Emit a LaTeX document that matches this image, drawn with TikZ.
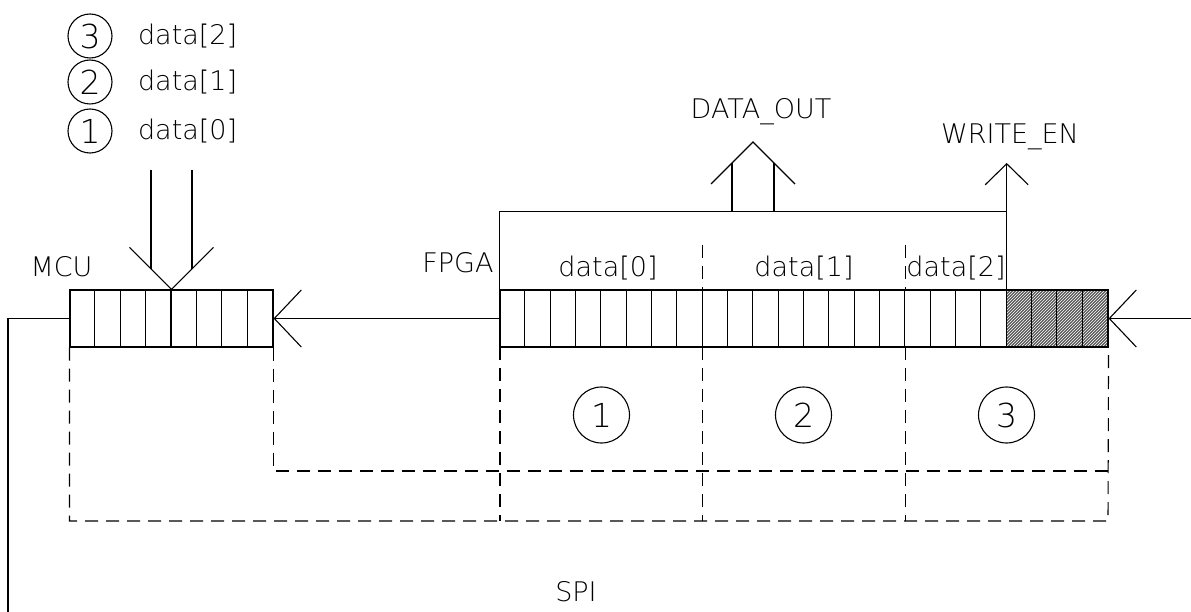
\documentclass[tikz,border=0pt]{standalone}
\usepackage{fontspec}
\setmainfont{DejaVu Sans ExtraLight}
\usetikzlibrary{arrows.meta,patterns,calc,positioning}

\begin{document}
\begin{tikzpicture}[x=1pt,y=-1pt,line width=1.1pt,
  reg/.style={draw,rectangle,minimum height=57pt,inner sep=0pt},
  hidden/.style={dash pattern=on 13pt off 8pt},
  barb/.style={-{Straight Barb[length=27pt,width=57pt]}},
  lbl/.style={inner sep=0pt,font=\fontsize{27}{30}\selectfont},
  num/.style={circle,draw,inner sep=0pt,font=\fontsize{33}{36}\selectfont}]
\useasboundingbox (0,0) rectangle (1191,612);

% registers
\fill [preaction={fill=black!65},pattern=north east lines,pattern color=white]
  (1006.7,290) rectangle (1108,347);
\node [reg,minimum width=203pt] (mcu) at (171.5,318.5) {};
\node [reg,minimum width=608pt] (fpga) at (804,318.5) {};
\foreach \i in {1,...,7} \draw ($(mcu.north west)+(\i*25.375,0)$) -- ++(0,57);
\foreach \i in {1,...,23} \draw ($(fpga.north west)+(\i*25.333,0)$) -- ++(0,57);

% labels
\node [lbl] (mculbl) at (61.5,267) {MCU};
\node [lbl] (fpgalbl) at (458,263) {FPGA};
\node [lbl] (d0) at (608,268) {data[0]};
\node [lbl] (d1) at (804,268) {data[1]};
\node [lbl] (d2) at (956,268) {data[2]};
\node [lbl] (dout) at (761,112) {DATA\_OUT};
\node [lbl] (wen) at (1010,137) {WRITE\_EN};
\node [lbl] (spi) at (576,592) {SPI};

\foreach \n/\d/\y in {3/2/36,2/1/82,1/0/131} {
  \node [num,minimum size=44pt] (leg\n) at (90,\y) {\n};
  \node [lbl,right=25pt of leg\n] {data[\d]};
}
\foreach \n/\x in {1/601.5,2/803.5,3/1006.5}
  \node [num,minimum size=56pt] (sec\n) at (\x,415) {\n};

% SPI lines
\draw [barb] (fpga.west) -- (mcu.east);
\coordinate (rin) at (1191,318.5);
\draw [barb] (rin) -- (fpga.east);
\coordinate (spiend) at (8,612);
\draw (mcu.west) -| (spiend);

% data into MCU
\draw ($(mcu.north)+(-42,-42)$) -- (mcu.north) -- ++(42,-42);
\draw ($(mcu.north)+(-20.5,-119)$) -- ++(0,98.5);
\draw ($(mcu.north)+(20.5,-119)$) -- ++(0,98.5);

% DATA_OUT and WRITE_EN
\coordinate (tr) at (1006.7,211.5);
\coordinate (wtip) at (1006.7,163);
\coordinate (otip) at (753,142);
\draw (fpga.north west) |- (tr);
\draw [-{Straight Barb[length=21pt,width=43pt]}] (fpga.north -| wtip) -- (wtip);
\draw ($(otip)+(-42,42)$) -- (otip) -- ++(42,42);
\draw ($(otip)+(-21,69.5)$) -- ++(0,-48.5);
\draw ($(otip)+(21,69.5)$) -- ++(0,-48.5);

% dashed frames
\coordinate (ob) at (1108,521);
\coordinate (ib) at (1108,471);
\draw [hidden] (mcu.south west) |- (ob) -- (fpga.south east);
\draw [hidden] (mcu.south east) |- (ib);
\foreach \x in {500,702.7,905.3} \draw [hidden] (\x,347) -- (\x,521);
\foreach \x in {702.7,905.3} \draw [hidden] (\x,245) -- (\x,290);
\end{tikzpicture}
\end{document}
